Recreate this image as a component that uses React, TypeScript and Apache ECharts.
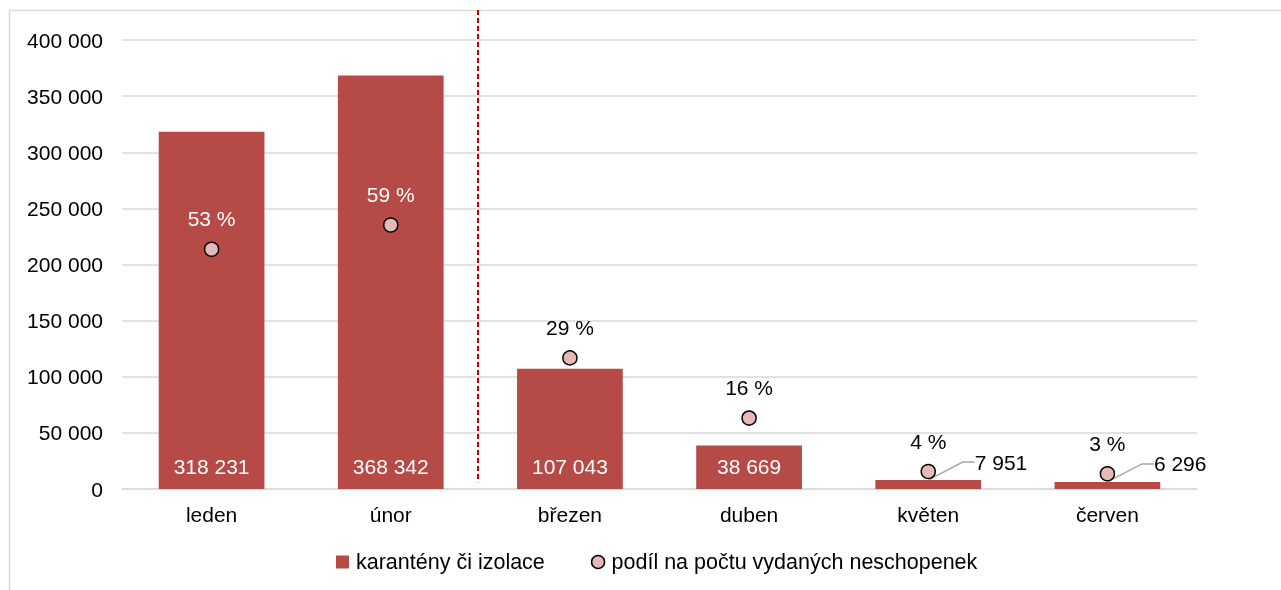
import React, { useEffect, useRef } from "react";
import * as echarts from "echarts";

const categories = ["leden", "únor", "březen", "duben", "květen", "červen"];
const quarantineCounts = [318231, 368342, 107043, 38669, 7951, 6296];
const sharePercent = [53.4, 58.8, 29.2, 15.8, 3.9, 3.4];
const yTicks = [0, 50000, 100000, 150000, 200000, 250000, 300000, 350000, 400000];
const seriesNames = ["karantény či izolace", "podíl na počtu vydaných neschopenek"];
// bars whose value label sits outside with a leader line
const outsideLabelIdx = [4, 5];

const BAR = "#b54a47";
const DOT = "#e6b9b8";
const FONT = "'Liberation Sans', Arial, sans-serif";
const FS = 21;

const fmt = (v: number) => String(Math.round(v)).replace(/\B(?=(\d{3})+(?!\d))/g, " ");

export default function App() {
  const ref = useRef<HTMLDivElement>(null);
  useEffect(() => {
    if (!ref.current) return;
    const chart = echarts.init(ref.current, undefined, { renderer: "svg" });
    chart.setOption({
      animation: false,
      textStyle: { fontFamily: FONT },
      grid: { left: 122, right: 84, top: 40, bottom: 101 },
      legend: {
        bottom: 12,
        left: 331,
        itemGap: 46,
        itemWidth: 13,
        itemHeight: 13,
        textStyle: { fontSize: 21.5, color: "#000", fontFamily: FONT, padding: [0, 0, 0, 2] },
        data: [
          { name: seriesNames[0], icon: "rect" },
          { name: seriesNames[1], icon: "circle", itemStyle: { color: DOT, borderColor: "#000", borderWidth: 1.5 } },
        ],
      },
      xAxis: {
        type: "category",
        data: categories,
        axisTick: { show: false },
        axisLine: { lineStyle: { color: "#d9d9d9", width: 1.5 } },
        axisLabel: { color: "#000", fontSize: FS, margin: 15, fontFamily: FONT },
      },
      yAxis: [
        {
          type: "value",
          min: yTicks[0],
          max: yTicks[yTicks.length - 1],
          interval: yTicks[1] - yTicks[0],
          axisLabel: { color: "#000", fontSize: FS, margin: 19, formatter: (v: number) => fmt(v), fontFamily: FONT },
          splitLine: { lineStyle: { color: "#d9d9d9", width: 1.5 } },
          axisLine: { show: false },
          axisTick: { show: false },
        },
        { type: "value", min: 0, max: 100, show: false, splitLine: { show: false } },
      ],
      series: [
        {
          name: seriesNames[0],
          type: "bar",
          barWidth: "59%",
          itemStyle: { color: BAR },
          z: 2,
          data: quarantineCounts.map((v, i) => ({
            value: v,
            label: { show: !outsideLabelIdx.includes(i) },
          })),
          label: {
            show: true,
            position: "insideBottom",
            distance: 12,
            color: "#fff",
            fontSize: FS,
            fontFamily: FONT,
            formatter: (p: any) => fmt(p.value),
          },
        },
        {
          name: "bar-top-labels",
          type: "scatter",
          symbol: "circle",
          symbolSize: 1,
          silent: true,
          z: 3,
          itemStyle: { color: "rgba(255,255,255,0)" },
          data: quarantineCounts.map((v, i) => (outsideLabelIdx.includes(i) ? v : "-")),
          label: {
            show: true,
            position: "right",
            distance: 0,
            color: "#000000",
            opacity: 1,
            fontSize: FS,
            fontFamily: FONT,
            formatter: (p: any) => fmt(p.value),
          },
          labelLayout: { dx: 46, dy: -18 },
          labelLine: { show: true, length2: 12, lineStyle: { color: "#a6a6a6", width: 1.5, opacity: 1 } },
        },
        {
          name: seriesNames[1],
          type: "scatter",
          yAxisIndex: 1,
          symbol: "circle",
          symbolSize: 14,
          z: 5,
          itemStyle: { color: DOT, borderColor: "#000", borderWidth: 1.5, opacity: 1 },
          data: sharePercent.map((v, i) => ({
            value: v,
            label: { color: i < 2 ? "#fff" : "#000" },
          })),
          label: {
            show: true,
            position: "top",
            distance: 12,
            fontSize: FS,
            fontFamily: FONT,
            formatter: (p: any) => Math.round(p.value) + " %",
          },
        },
      ],
    });
    const xa = chart.convertToPixel({ xAxisIndex: 0 }, categories[1]) as number;
    const xb = chart.convertToPixel({ xAxisIndex: 0 }, categories[2]) as number;
    const yEnd = chart.convertToPixel({ yAxisIndex: 0 }, 6000) as number;
    const xm = Math.round((xa + xb) / 2) - 2;
    chart.setOption({
      graphic: [
        {
          type: "rect",
          shape: { x: 9.5, y: 10.5, width: 1300, height: 700 },
          style: { fill: "none", stroke: "#d9d9d9", lineWidth: 1.5 },
          silent: true,
          z: -10,
        },
        {
          type: "line",
          shape: { x1: xm, y1: 10, x2: xm, y2: yEnd },
          style: { stroke: "#c00000", lineWidth: 2, lineDash: [5, 3] },
          silent: true,
          z: 10,
        },
      ],
    });
    return () => chart.dispose();
  }, []);
  return <div ref={ref} style={{ position: "fixed", left: 0, top: 0, width: 1281, height: 590 }} />;
}
